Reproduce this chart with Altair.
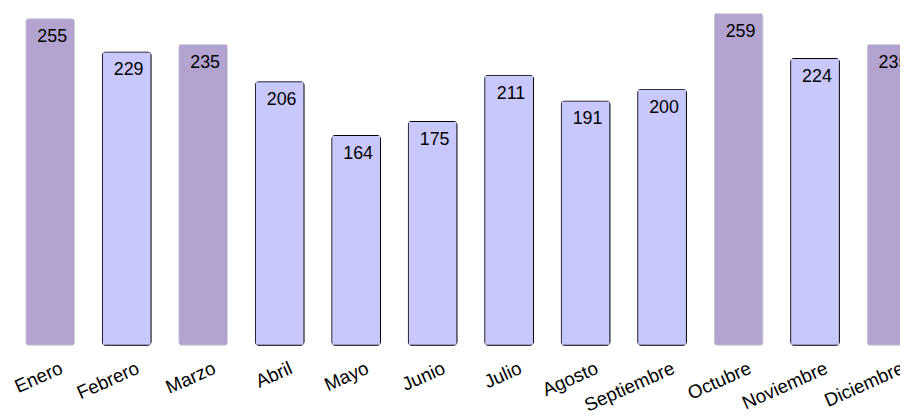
import altair as alt
import pandas as pd

meses = ["Enero", "Febrero", "Marzo", "Abril", "Mayo", "Junio", "Julio",
         "Agosto", "Septiembre", "Octubre", "Noviembre", "Diciembre"]
valores = [255, 229, 235, 206, 164, 175, 211, 191, 200, 259, 224, 235]

df = pd.DataFrame({"mes": meses, "valor": valores})

W = 896
H = 337
STEP_RANGE = 926  # band scale spans beyond the visible width (last bar is cut)

x = alt.X("mes:N", sort=meses, title=None,
          scale=alt.Scale(range=[0, STEP_RANGE], paddingInner=0.35, paddingOuter=0.175),
          axis=alt.Axis(labelAngle=336, labelAlign="right", labelBaseline="top",
                        labelOffset=8, labelPadding=13, ticks=False, domain=False,
                        grid=False, labelFontSize=19, labelColor="#000000",
                        labelFont="Liberation Sans", labelOverlap=False,
                        labelLimit=0))
y = alt.Y("valor:Q", title=None, scale=alt.Scale(domain=[0, 260], nice=False),
          axis=None)

base = alt.Chart(df).transform_calculate(
    grupo="datum.valor > 230 ? 'alto' : 'normal'"
)

bars = base.mark_bar(cornerRadius=4, strokeWidth=2, strokeOpacity=1, fillOpacity=1).encode(
    x=x,
    y=y,
    color=alt.Color("grupo:N", legend=None,
                    scale=alt.Scale(domain=["alto", "normal"], range=["#b3a3d1", "#c8c8fd"])),
    stroke=alt.Stroke("grupo:N", legend=None,
                      scale=alt.Scale(domain=["alto", "normal"], range=["#d8d8d8", "#000000"])),
)

labels = base.mark_text(baseline="middle", align="center", dy=19, dx=2,
                        fontSize=18, font="Liberation Sans",
                        color="#000000").encode(
    x=x,
    y=y,
    text=alt.Text("valor:Q"),
)

chart = (bars + labels).properties(
    width=W, height=H,
    autosize=alt.AutoSizeParams(type="none"),
    padding={"left": 4, "top": 2, "right": 0, "bottom": 70},
).configure_view(stroke=None)

chart.save("out.html", embed_options={"renderer": "svg", "actions": False})
